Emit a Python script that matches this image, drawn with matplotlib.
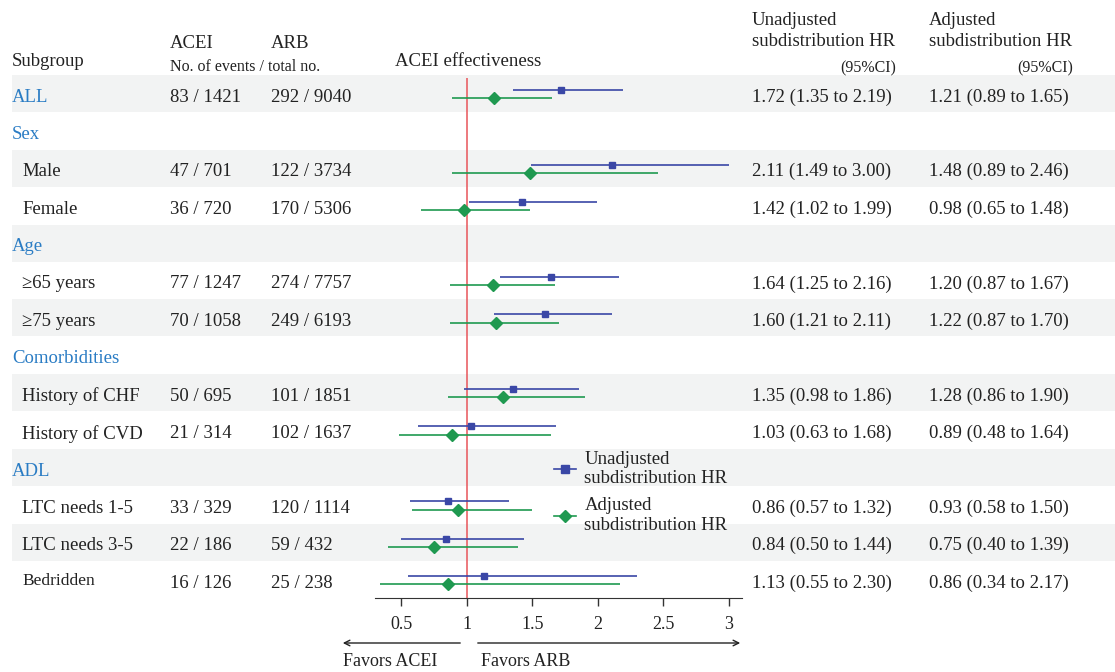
import numpy as np
import matplotlib
matplotlib.use("Agg")
import matplotlib.pyplot as plt
from matplotlib.lines import Line2D

plt.rcParams["font.family"] = ["Liberation Serif", "DejaVu Serif"]

# ---- data ----
subgroups = ["ALL", "Sex", "Male", "Female", "Age", "≥65 years", "≥75 years",
             "Comorbidities", "History of CHF", "History of CVD", "ADL",
             "LTC needs 1-5", "LTC needs 3-5", "Bedridden"]
is_group = [True, True, False, False, True, False, False,
            True, False, False, True, False, False, False]
acei_events = ["83 / 1421", "", "47 / 701", "36 / 720", "", "77 / 1247", "70 / 1058",
               "", "50 / 695", "21 / 314", "", "33 / 329", "22 / 186", "16 / 126"]
arb_events = ["292 / 9040", "", "122 / 3734", "170 / 5306", "", "274 / 7757", "249 / 6193",
              "", "101 / 1851", "102 / 1637", "", "120 / 1114", "59 / 432", "25 / 238"]
nan = np.nan
unadj_hr = [1.72, nan, 2.11, 1.42, nan, 1.64, 1.60, nan, 1.35, 1.03, nan, 0.86, 0.84, 1.13]
unadj_lo = [1.35, nan, 1.49, 1.02, nan, 1.25, 1.21, nan, 0.98, 0.63, nan, 0.57, 0.50, 0.55]
unadj_hi = [2.19, nan, 3.00, 1.99, nan, 2.16, 2.11, nan, 1.86, 1.68, nan, 1.32, 1.44, 2.30]
adj_hr = [1.21, nan, 1.48, 0.98, nan, 1.20, 1.22, nan, 1.28, 0.89, nan, 0.93, 0.75, 0.86]
adj_lo = [0.89, nan, 0.89, 0.65, nan, 0.87, 0.87, nan, 0.86, 0.48, nan, 0.58, 0.40, 0.34]
adj_hi = [1.65, nan, 2.46, 1.48, nan, 1.67, 1.70, nan, 1.90, 1.64, nan, 1.50, 1.39, 2.17]
xticks = [0.5, 1, 1.5, 2, 2.5, 3]

BLUE = "#3a47a6"
GREEN = "#1f9950"
RED = "#e8555a"
HEAD = "#2a7cc4"
SHADE = "#f2f3f3"
TXT = "#222222"

W, H = 1115, 672
ROW0, PITCH = 97, 37.4
def row_y(i):
    return ROW0 + PITCH * i

fig = plt.figure(figsize=(W / 100, H / 100), dpi=100)
bg = fig.add_axes([0, 0, 1, 1])
bg.set_xlim(0, W)
bg.set_ylim(H, 0)
bg.axis("off")

n = len(subgroups)
for i in range(0, n, 2):
    bg.axhspan(row_y(i) - 22, row_y(i) + 15, xmin=12 / W, xmax=1, color=SHADE, lw=0, zorder=0)

fs = 13.5
small = 11.5
# headers
bg.text(12, 62, "Subgroup", fontsize=fs, va="center", color=TXT)
bg.text(170, 44, "ACEI", fontsize=fs, va="center", color=TXT)
bg.text(271, 44, "ARB", fontsize=fs, va="center", color=TXT)
bg.text(170, 67, "No. of events / total no.", fontsize=small, va="center", color=TXT)
bg.text(395, 62, "ACEI effectiveness", fontsize=fs, va="center", color=TXT)
bg.text(752, 31, "Unadjusted\nsubdistribution HR", fontsize=fs, va="center", color=TXT, linespacing=1.35)
bg.text(929, 31, "Adjusted\nsubdistribution HR", fontsize=fs, va="center", color=TXT, linespacing=1.35)
bg.text(896, 68, "(95%CI)", fontsize=small, va="center", ha="right", color=TXT)
bg.text(1073, 68, "(95%CI)", fontsize=small, va="center", ha="right", color=TXT)

for i, name in enumerate(subgroups):
    y = row_y(i)
    if is_group[i]:
        bg.text(12, y, name, fontsize=fs, va="center", color=HEAD)
    elif name == "Bedridden":
        bg.text(22, y - 2, name, fontsize=12.5, va="center", color=TXT)
    else:
        bg.text(22, y, name, fontsize=fs, va="center", color=TXT)
    if acei_events[i]:
        bg.text(170, y, acei_events[i], fontsize=fs, va="center", color=TXT)
        bg.text(271, y, arb_events[i], fontsize=fs, va="center", color=TXT)
    if not np.isnan(unadj_hr[i]):
        bg.text(752, y, f"{unadj_hr[i]:.2f} ({unadj_lo[i]:.2f} to {unadj_hi[i]:.2f})",
                fontsize=fs, va="center", color=TXT)
        bg.text(929, y, f"{adj_hr[i]:.2f} ({adj_lo[i]:.2f} to {adj_hi[i]:.2f})",
                fontsize=fs, va="center", color=TXT)

# ---- forest axes ----
left_px, right_px, top_px, bot_px = 375, 742, 78, 598
ax = fig.add_axes([left_px / W, 1 - bot_px / H, (right_px - left_px) / W, (bot_px - top_px) / H])
ax.patch.set_alpha(0)
ax.set_xlim(0.30, 3.10)
ax.set_ylim((bot_px - ROW0) / PITCH, (top_px - ROW0) / PITCH)

rows = np.arange(n)
uh, ul, uu = map(np.array, (unadj_hr, unadj_lo, unadj_hi))
ah, al, au = map(np.array, (adj_hr, adj_lo, adj_hi))
ok = ~np.isnan(uh)
ax.axvline(1, color=RED, lw=1.1, zorder=1)
ax.hlines(rows[ok] - 0.19, ul[ok], uu[ok], color=BLUE, lw=1.2, zorder=2)
ax.plot(uh[ok], rows[ok] - 0.19, "s", color=BLUE, ms=5, zorder=3)
ax.hlines(rows[ok] + 0.03, al[ok], au[ok], color=GREEN, lw=1.2, zorder=2)
ax.plot(ah[ok], rows[ok] + 0.03, "D", color=GREEN, ms=6.5, zorder=3)

for s in ["top", "left", "right"]:
    ax.spines[s].set_visible(False)
ax.spines["bottom"].set_color("#333333")
ax.set_yticks([])
ax.set_xticks(xticks)
ax.set_xticklabels([f"{t:g}" for t in xticks])
ax.tick_params(axis="x", direction="out", length=6, width=1, color="#333333",
               labelsize=13, pad=7, labelcolor=TXT)

handles = [Line2D([], [], color=BLUE, marker="s", ms=6, lw=1.2),
           Line2D([], [], color=GREEN, marker="D", ms=6.5, lw=1.2)]
leg = ax.legend(handles, ["Unadjusted\nsubdistribution HR", "Adjusted\nsubdistribution HR"],
                loc="upper left", bbox_to_anchor=(546 / W, 1 - 443 / H), bbox_transform=fig.transFigure,
                frameon=False, fontsize=fs, handlelength=1.2, handletextpad=0.45,
                labelspacing=0.55, borderaxespad=0)
for t in leg.get_texts():
    t.set_color(TXT)

# favors arrows
bg.annotate("", xy=(340, 643), xytext=(463, 643),
            arrowprops=dict(arrowstyle="->", color="#222222", lw=1))
bg.annotate("", xy=(743, 643), xytext=(475, 643),
            arrowprops=dict(arrowstyle="->", color="#222222", lw=1))
bg.text(343, 661, "Favors ACEI", fontsize=13, va="center", color=TXT)
bg.text(481, 661, "Favors ARB", fontsize=13, va="center", color=TXT)

fig.savefig("out.png", dpi=100)
